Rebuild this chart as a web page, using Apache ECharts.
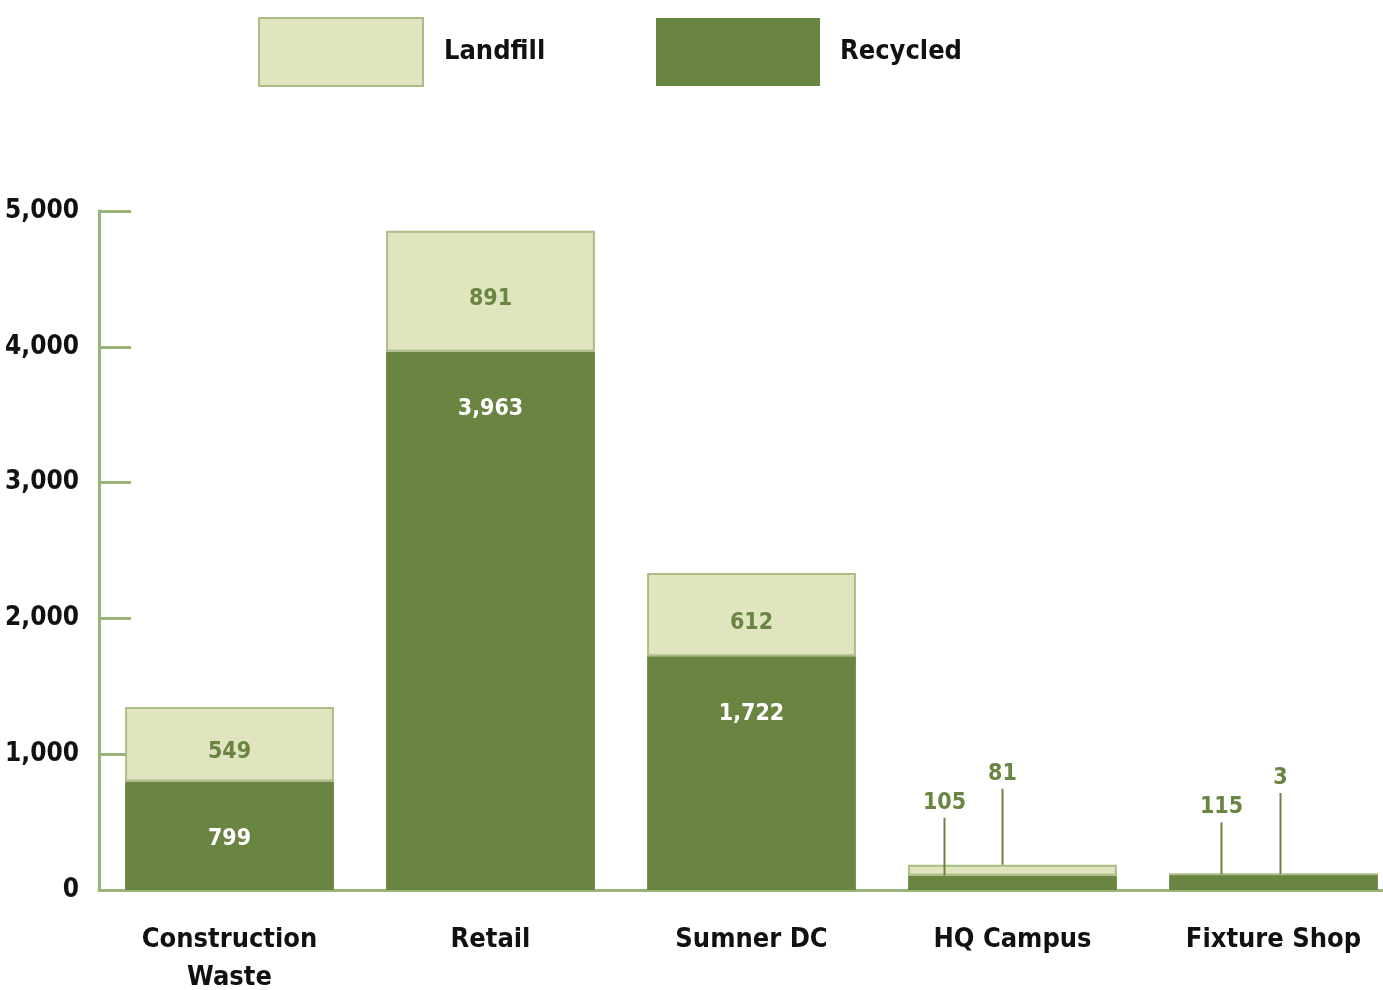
<!DOCTYPE html>
<html>
<head>
<meta charset="utf-8">
<script src="https://cdn.jsdelivr.net/npm/echarts@6/dist/echarts.min.js"></script>
<style>
  html, body { margin: 0; padding: 0; background: #ffffff; }
  #chart { width: 1383px; height: 990px; }
</style>
</head>
<body>
<div id="chart"></div>
<script>
// Waste tonnage by source, split into recycled and landfill
const categories = ['Construction\nWaste', 'Retail', 'Sumner DC', 'HQ Campus', 'Fixture Shop'];
const recycled = [799, 3963, 1722, 105, 115];
const landfill = [549, 891, 612, 81, 3];
const yTicks = [0, 1000, 2000, 3000, 4000, 5000];

const FONT = "'DejaVu Sans Condensed', 'Liberation Sans Narrow', sans-serif";
const DARK = '#6a8442';
const LIGHT = '#e1e5bf';
const LIGHT_EDGE = '#a9bd84';
const AXIS = '#98b47a';

// Stacks too short to hold their numbers get callouts above the bar
const isSmall = (i) => recycled[i] + landfill[i] < 500;

// Callout placement: horizontal shift (share of band width) and leader length (px)
const calloutLayout = {
  'HQ Campus|recycled': { shift: -0.262, len: 58 },
  'HQ Campus|landfill': { shift: -0.04, len: 76 },
  'Fixture Shop|recycled': { shift: -0.2, len: 52 },
  'Fixture Shop|landfill': { shift: 0.025, len: 81 }
};

const fmt = (v) => v.toLocaleString('en-US');

const calloutData = [];
categories.forEach((c, i) => {
  if (!isSmall(i)) return;
  calloutData.push([i, recycled[i], recycled[i], 'recycled']);
  calloutData.push([i, recycled[i] + landfill[i], landfill[i], 'landfill']);
});

const chart = echarts.init(document.getElementById('chart'), null, { renderer: 'canvas' });

const legendText = { fontFamily: FONT, fontWeight: 'bold', fontSize: 27, color: '#111' };

chart.setOption({
  animation: false,
  textStyle: { fontFamily: FONT },
  legend: [
    {
      data: ['Landfill'], left: 258, top: 17, icon: 'rect', padding: 0,
      itemWidth: 164, itemHeight: 68,
      itemStyle: { color: LIGHT, borderColor: LIGHT_EDGE, borderWidth: 2 },
      textStyle: Object.assign({ padding: [0, 0, 0, 16] }, legendText),
      selectedMode: false
    },
    {
      data: ['Recycled'], left: 656, top: 18, icon: 'rect', padding: 0,
      itemWidth: 164, itemHeight: 68,
      itemStyle: { color: DARK, borderWidth: 0 },
      textStyle: Object.assign({ padding: [0, 0, 0, 15] }, legendText),
      selectedMode: false
    }
  ],
  grid: { left: 99, top: 211, width: 1305, height: 679, containLabel: false, outerBoundsMode: 'none' },
  xAxis: {
    type: 'category',
    data: categories,
    axisLine: { lineStyle: { color: AXIS, width: 3 } },
    axisTick: { show: false },
    axisLabel: {
      margin: 31, color: '#111', fontFamily: FONT, fontWeight: 'bold', fontSize: 27, lineHeight: 38,
      interval: 0
    }
  },
  yAxis: {
    type: 'value',
    min: yTicks[0], max: yTicks[yTicks.length - 1], interval: 1000,
    axisLine: { show: true, lineStyle: { color: AXIS, width: 3 } },
    axisTick: { show: true, inside: true, length: 32, lineStyle: { color: AXIS, width: 3 } },
    splitLine: { show: false },
    axisLabel: {
      margin: 20, color: '#111', fontFamily: FONT, fontWeight: 'bold', fontSize: 26,
      formatter: (v) => fmt(v)
    }
  },
  series: [
    {
      name: 'Recycled', type: 'bar', stack: 'waste', barWidth: '80%',
      itemStyle: { color: DARK },
      data: recycled.map((v, i) => ({
        value: v,
        label: {
          show: !isSmall(i), position: 'insideTop', distance: 46,
          color: '#ffffff', fontFamily: FONT, fontWeight: 'bold', fontSize: 23,
          formatter: (p) => fmt(p.value)
        }
      }))
    },
    {
      name: 'Landfill', type: 'bar', stack: 'waste', barWidth: '80%',
      itemStyle: { color: LIGHT, borderColor: LIGHT_EDGE, borderWidth: 2 },
      data: landfill.map((v, i) => ({
        value: v,
        label: {
          show: !isSmall(i), position: 'inside', offset: [0, 8],
          color: DARK, fontFamily: FONT, fontWeight: 'bold', fontSize: 23,
          formatter: (p) => fmt(p.value)
        }
      }))
    },
    {
      // Leader lines and values for the short stacks
      type: 'custom', name: 'callouts', z: 5, silent: true,
      encode: { x: 0, y: 1 },
      data: calloutData,
      renderItem: (params, api) => {
        const idx = api.value(0);
        const top = api.coord([idx, api.value(1)]);
        const band = api.size([1, 0])[0];
        const key = categories[idx] + '|' + calloutData[params.dataIndex][3];
        const lay = calloutLayout[key];
        const x = Math.round(top[0] + lay.shift * band) + 0.5;
        const y0 = top[1];
        const y1 = y0 - lay.len;
        return {
          type: 'group',
          children: [
            {
              type: 'line',
              shape: { x1: x, y1: y0, x2: x, y2: y1 },
              style: { stroke: DARK, lineWidth: 2 }
            },
            {
              type: 'text',
              x: x, y: y1 - 15,
              style: {
                text: fmt(api.value(2)),
                fill: DARK, font: 'bold 23px ' + FONT,
                align: 'center', verticalAlign: 'middle'
              }
            }
          ]
        };
      }
    }
  ]
});
</script>
</body>
</html>
